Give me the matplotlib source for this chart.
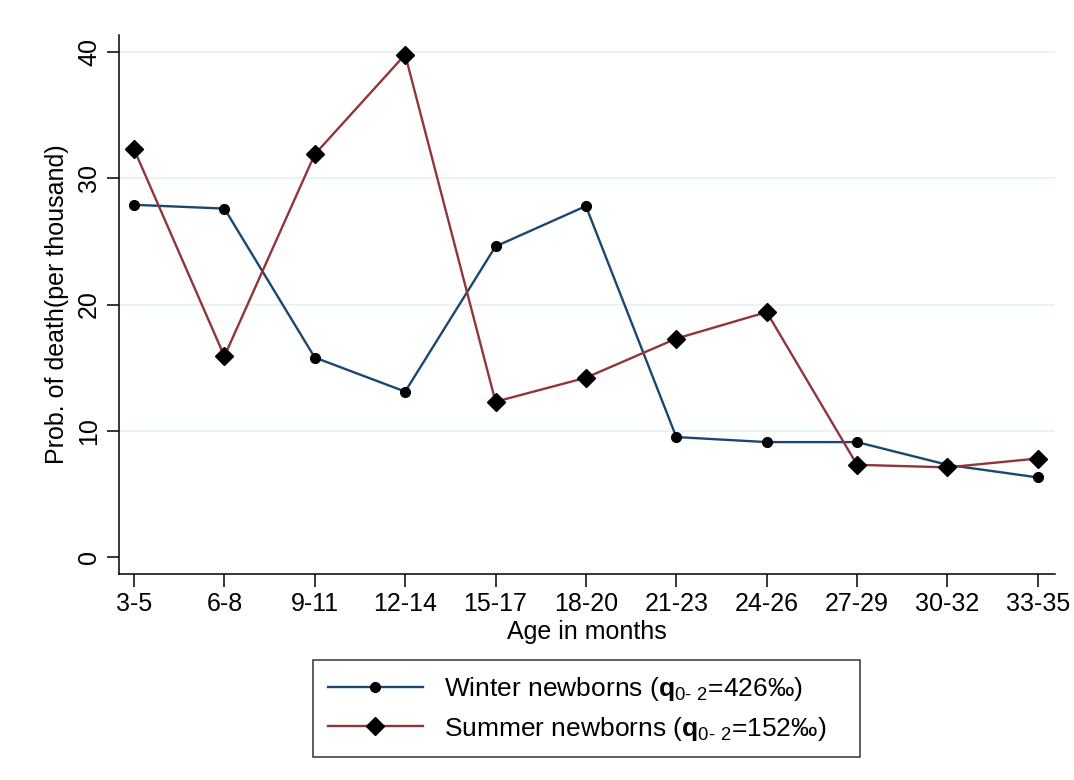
import matplotlib
matplotlib.use("Agg")
import matplotlib.pyplot as plt

# Age groups (months) and probability of death per thousand
age_groups = ["3-5", "6-8", "9-11", "12-14", "15-17", "18-20",
              "21-23", "24-26", "27-29", "30-32", "33-35"]
winter = [27.9, 27.6, 15.8, 13.1, 24.6, 27.8, 9.5, 9.1, 9.1, 7.3, 6.3]
summer = [32.3, 15.9, 31.9, 39.8, 12.3, 14.2, 17.3, 19.4, 7.3, 7.1, 7.8]
y_ticks = [0, 10, 20, 30, 40]

plt.rcParams["font.family"] = ["Liberation Sans", "DejaVu Sans"]
plt.rcParams["mathtext.fontset"] = "custom"
plt.rcParams["mathtext.rm"] = "Liberation Sans"
plt.rcParams["mathtext.bf"] = "Liberation Sans:bold"

fig = plt.figure(figsize=(10.74, 7.80), dpi=100)
ax = fig.add_axes([0.1108, 0.2641, 0.8715, 0.6910])

x = list(range(len(age_groups)))
navy = "#1a476f"
maroon = "#90353b"

ax.plot(x, winter, color=navy, lw=1.7, marker="o", ms=7,
        mfc="black", mec="black",
        label=r"Winter newborns ($\mathbf{q}_{\mathrm{0\text{-}\ 2}}$=426‰)")
ax.plot(x, summer, color=maroon, lw=1.7, marker="D", ms=9,
        mfc="black", mec="black",
        label=r"Summer newborns ($\mathbf{q}_{\mathrm{0\text{-}\ 2}}$=152‰)")

ax.set_xlim(-0.166, 10.19)
ax.set_ylim(-1.35, 41.35)
ax.set_xticks(x)
ax.set_xticklabels(age_groups)
ax.set_yticks(y_ticks)
ax.set_yticklabels([str(v) for v in y_ticks], rotation=90, va="center")

for v in y_ticks[1:]:
    ax.axhline(v, color="#eaf2f3", lw=1.5, zorder=0)

for side in ("top", "right"):
    ax.spines[side].set_visible(False)
for side in ("left", "bottom"):
    ax.spines[side].set_linewidth(1.1)
    ax.spines[side].set_color("black")

ax.tick_params(axis="both", direction="out", length=9, width=1.1,
               labelsize=18, pad=4)
ax.set_xlabel("Age in months", fontsize=18, labelpad=3)
ax.set_ylabel("Prob. of death(per thousand)", fontsize=18, labelpad=6)

# Legend box spans a fixed width below the plot, entries left-aligned
leg = ax.legend(loc="upper left", bbox_to_anchor=(0.2073, -0.160, 0.5844, 0.0),
                mode="expand", fontsize=19, handlelength=3.6, frameon=True,
                fancybox=False, edgecolor="black", borderpad=0.55,
                labelspacing=0.45, handletextpad=0.8, borderaxespad=0)
leg.get_frame().set_linewidth(1.1)

fig.savefig("out.png", dpi=100)
